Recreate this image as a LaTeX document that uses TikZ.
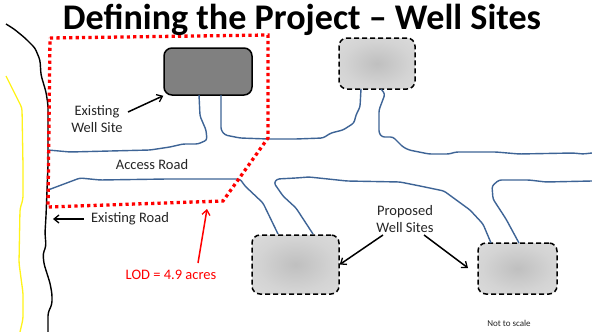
\documentclass[tikz,border=0pt]{standalone}
\usepackage{fontspec}
\setmainfont{Carlito}
\usetikzlibrary{arrows.meta}
\pgfdeclareradialshading{wellglow}{\pgfpoint{0bp}{0bp}}{color(0bp)=(black!25); color(22bp)=(black!17); color(50bp)=(black!11); color(100bp)=(black!11)}
\tikzset{
 x=1pt,y=-1pt,
 road/.style={line width=1.4pt,color=roadblue,rounded corners=2.5pt},
 lbl/.style={inner sep=0pt,align=center,font=\fontsize{14.5}{17}\selectfont,text=black!85},
 arrowk/.style={line width=1.5pt,-{Straight Barb[length=5pt,width=8pt,line width=1.3pt]}},
 proposed/.style={draw=black,line width=1.5pt,dash pattern=on 5pt off 3pt,rounded corners=8pt,inner sep=0pt,shading=wellglow},
 existing/.style={draw=black,line width=1.5pt,rounded corners=8pt,inner sep=0pt,fill=black!50},
}
\definecolor{roadblue}{RGB}{62,100,150}
\begin{document}
\begin{tikzpicture}
\useasboundingbox (0,0) rectangle (592,332);
\fill[white] (0,0) rectangle (592,332);
% existing roads
\draw[yellow!90!white,line width=1.3pt,rounded corners=3pt] (6,76)--(22,108)--(23,166)--(23,199)--(20,209)--(19,263)--(23,293)--(23,319)--(20,332);
\draw[black,line width=1.4pt,rounded corners=3pt] (6,24)--(14,29)--(25,38)--(35,48)--(40,60)--(41,75)--(46,92)--(48,105)--(48,166)--(46,216)--(45,233)--(46,246)--(43,254)--(44,264)--(50,283)--(52,294)--(52,304)--(48,313)--(48,332);
% wells
\node[existing,minimum width=88pt,minimum height=47pt] (ew) at (208,71.5) {};
\node[proposed,minimum width=76pt,minimum height=51pt] (p1) at (377,63.5) {};
\node[proposed,minimum width=87pt,minimum height=59pt] (p2) at (295.5,264.5) {};
\node[proposed,minimum width=79pt,minimum height=51pt] (p3) at (517.5,268.5) {};
% access roads
\draw[road] (48,150)--(70,152)--(110,151)--(150,150)--(170,147)--(183,144)--(198,144)--(207,140)--(206,130)--(200,116)--(199,95);
\draw[road] (221,95)--(221,130)--(225,135)--(240,138)--(268,139)--(296,139)--(323,138)--(331,133)--(343,130)--(354,123)--(356,115)--(360,107)--(361,89);
\draw[road] (381,89)--(385,94)--(379,110)--(379,133)--(382,137)--(393,137)--(403,147)--(409,150)--(429,154)--(449,154)--(456,152)--(496,152)--(519,154)--(573,153)--(583,154)--(592,153);
\draw[road] (48,190)--(72,181)--(80,178)--(100,180)--(167,179)--(240,179)--(245,186)--(263,203)--(278,234);
\draw[road] (313,234)--(296,208)--(283,196)--(274,183)--(277,179)--(296,178)--(309,177)--(347,181)--(400,182)--(420,186)--(444,191)--(470,210)--(483,224)--(491,243);
\draw[road] (519,243)--(506,219)--(493,199)--(492,186)--(499,180)--(529,180)--(546,182)--(592,181);
% LOD
\draw[red,line width=3.3pt,dash pattern=on 3.2pt off 3.2pt] (50,38)--(268,35)--(268,138)--(223,201)--(48,207)--cycle;
% title
\node[inner sep=0pt,font=\fontsize{36.1}{40}\bfseries\selectfont] (title) at (302,20) {Defining the Project – Well Sites};
% labels
\node[lbl] (ewl) at (97,119.5) {Existing\\Well Site};
\node[lbl] (ar) at (152,165) {Access Road};
\node[lbl] (erl) at (130,219) {Existing Road};
\node[lbl,text=red] (lod) at (171,275) {LOD = 4.9 acres};
\node[lbl] (pl) at (405,219) {Proposed\\Well Sites};
\node[inner sep=0pt,font=\fontsize{9}{10}\selectfont,text=black!85] (nts) at (509,323) {Not to scale};
% pointers
\coordinate (erp) at (53,219);
\coordinate (lodp) at (207,209);
\coordinate (p3p) at (468,268);
\draw[arrowk] (128,112)--(ew.south west);
\draw[arrowk] (erl.west)+(-7,0) --(erp);
\draw[arrowk,red] (198,263)--(lodp);
\draw[arrowk] (383,235)--(p2.east);
\draw[arrowk] (424,235)--(p3p);
\end{tikzpicture}
\end{document}
